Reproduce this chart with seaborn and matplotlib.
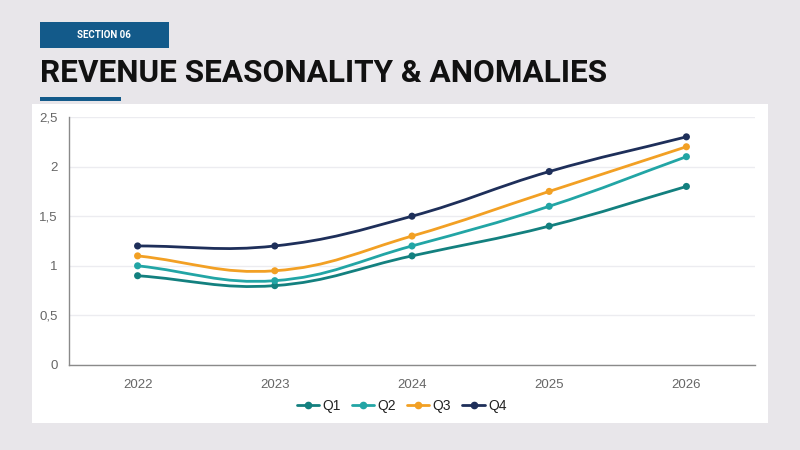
import matplotlib
matplotlib.use('Agg')
import matplotlib.pyplot as plt
from matplotlib.path import Path
from matplotlib.patches import PathPatch, Rectangle
from matplotlib.lines import Line2D
from matplotlib.ticker import FuncFormatter, FixedLocator
import numpy as np
import pandas as pd
import seaborn as sns

years = ['2022', '2023', '2024', '2025', '2026']
q1 = [0.9, 0.8, 1.1, 1.4, 1.8]
q2 = [1.0, 0.85, 1.2, 1.6, 2.1]
q3 = [1.1, 0.95, 1.3, 1.75, 2.2]
q4 = [1.2, 1.2, 1.5, 1.95, 2.3]
series_names = ['Q1', 'Q2', 'Q3', 'Q4']
colors = ['#13807f', '#22a5a5', '#f2a024', '#1e2f5a']

df = pd.DataFrame({'Year': years * 4,
                   'Value': q1 + q2 + q3 + q4,
                   'Quarter': [s for s in series_names for _ in years]})

sns.set_style('white')
plt.rcParams['font.family'] = ['Liberation Sans', 'DejaVu Sans']

fig = plt.figure(figsize=(8, 4.5), dpi=100)
fig.patch.set_facecolor('#e8e6ea')

# white card behind the chart
fig.patches.append(Rectangle((0.04, 0.06), 0.92, 0.709, transform=fig.transFigure,
                             facecolor='white', edgecolor='none', zorder=-5))
# header
fig.patches.append(Rectangle((0.05, 0.8933), 0.16125, 0.0578, transform=fig.transFigure,
                             facecolor='#135a8a', edgecolor='none'))
fig.text(0.13, 0.922, 'SECTION 06', color='white', fontsize=7, fontweight='bold',
         ha='center', va='center', family='Roboto')
fig.text(0.05, 0.818, 'REVENUE SEASONALITY & ANOMALIES', color='#111111', fontsize=22.7,
         fontweight='bold', ha='left', va='baseline', family='Roboto')
fig.patches.append(Rectangle((0.05, 0.776), 0.10125, 0.009, transform=fig.transFigure,
                             facecolor='#135a8a', edgecolor='none'))

ax = fig.add_axes([0.08625, 0.1889, 0.8575, 0.5511])
ax.set_facecolor('none')


def smooth_path(xs, ys, tension=0.4, yscale=0.72):
    # bezier control points (chart.js style) so the line is curved like the original
    pts = np.column_stack([xs, ys])
    sc = np.array([1.0, yscale])
    verts = [pts[0]]
    codes = [Path.MOVETO]
    n = len(pts)
    cps = []
    for i in range(n):
        p0 = pts[max(i - 1, 0)]
        p1 = pts[i]
        p2 = pts[min(i + 1, n - 1)]
        d01 = np.linalg.norm((p1 - p0) * sc)
        d12 = np.linalg.norm((p2 - p1) * sc)
        tot = d01 + d12 if d01 + d12 > 0 else 1
        fa = tension * d01 / tot
        fb = tension * d12 / tot
        cps.append((p1 - fa * (p2 - p0), p1 + fb * (p2 - p0)))
    for i in range(1, n):
        verts += [cps[i - 1][1], cps[i][0], pts[i]]
        codes += [Path.CURVE4] * 3
    return Path(verts, codes)


xs = np.arange(len(years))
for vals, col in zip([q1, q2, q3, q4], colors):
    ax.add_patch(PathPatch(smooth_path(xs, vals), facecolor='none', edgecolor=col,
                           lw=2, zorder=2, capstyle='round'))

sns.scatterplot(data=df, x='Year', y='Value', hue='Quarter', palette=colors,
                s=26, edgecolor='none', legend=False, ax=ax, zorder=3)

ax.set_xlim(-0.5, 4.5)
ax.set_ylim(0, 2.5)
ax.set_yticks([0, 0.5, 1, 1.5, 2, 2.5])
ax.yaxis.set_major_formatter(FuncFormatter(lambda v, p: f'{v:g}'.replace('.', ',')))
ax.grid(axis='y', color='#ececf0', lw=1)
ax.set_axisbelow(True)
ax.set_xlabel('')
ax.set_ylabel('')

for s in ['top', 'right']:
    ax.spines[s].set_visible(False)
for s in ['left', 'bottom']:
    ax.spines[s].set_color('#8a8a8a')
    ax.spines[s].set_linewidth(1)

ax.tick_params(axis='x', which='major', length=0, pad=10, labelsize=9.5, labelcolor='#666666')
ax.xaxis.set_minor_locator(FixedLocator(np.arange(-0.5, 5, 1)))
ax.tick_params(axis='x', which='minor', length=4, color='#8a8a8a', width=1)
ax.tick_params(axis='y', length=4, color='#8a8a8a', pad=4, labelsize=9.5, labelcolor='#666666')

handles = [Line2D([0], [0], color=c, lw=2, marker='o', markersize=4.5) for c in colors]
fig.legend(handles, series_names, loc='center', bbox_to_anchor=(0.502, 0.098), ncol=4,
           frameon=False, fontsize=10, handlelength=1.6, handletextpad=0.25,
           columnspacing=0.8, labelcolor='#222222')

fig.savefig('out.png', dpi=100, facecolor=fig.get_facecolor())
